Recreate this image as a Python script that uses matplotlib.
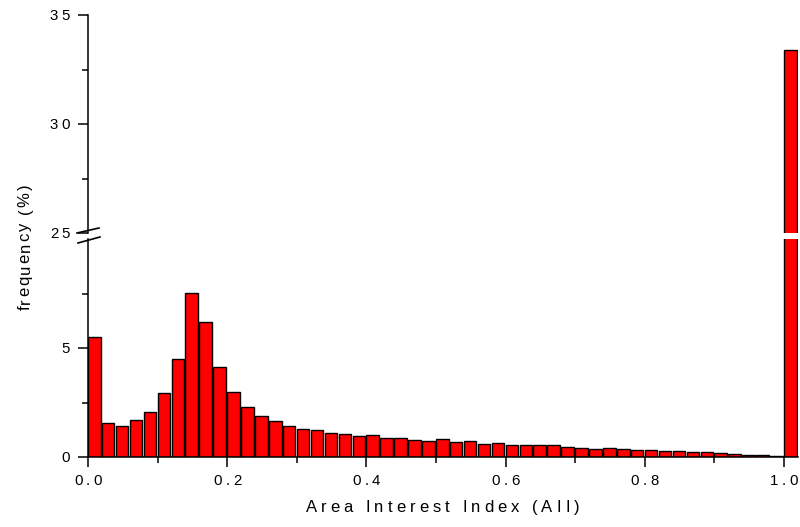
import matplotlib
matplotlib.use("Agg")
import numpy as np
import matplotlib.pyplot as plt
from matplotlib.lines import Line2D
from matplotlib.transforms import offset_copy
from matplotlib.font_manager import FontProperties, findfont, get_font

# Data: bin left edges (AII, 0.02 wide) and frequency (%)
BIN_LEFT = np.linspace(0.0, 1.0, 51)
FREQ = [5.49, 1.57, 1.44, 1.70, 2.08, 2.95, 4.48, 7.51, 6.21, 4.14,
        3.00, 2.31, 1.89, 1.67, 1.42, 1.30, 1.24, 1.09, 1.06, 0.98,
        0.99, 0.87, 0.86, 0.80, 0.75, 0.83, 0.70, 0.72, 0.61, 0.63,
        0.56, 0.57, 0.53, 0.54, 0.47, 0.43, 0.38, 0.41, 0.37, 0.34,
        0.34, 0.28, 0.26, 0.23, 0.23, 0.20, 0.15, 0.11, 0.08, 0.05,
        33.4]

XTICKS = [0.0, 0.2, 0.4, 0.6, 0.8, 1.0]
XTICK_LABELS = ["0.0", "0.2", "0.4", "0.6", "0.8", "1.0"]
XMINOR = [0.1, 0.3, 0.5, 0.7, 0.9]
LOW_TICKS = [0, 5]
LOW_MINOR = [2.5, 7.5]
HIGH_TICKS = [25, 30, 35]
HIGH_MINOR = [27.5, 32.5]

FONT = "Liberation Sans"
W, H = 800, 527

fig = plt.figure(figsize=(W / 100, H / 100), dpi=100)
fig.patch.set_facecolor("white")

# two stacked axes for the broken y axis (pixel layout of the reference)
ax_lo = fig.add_axes([88 / W, (H - 457) / H, 710 / W, 218 / H])
ax_hi = fig.add_axes([88 / W, (H - 233) / H, 710 / W, 218 / H])

for ax in (ax_lo, ax_hi):
    ax.bar(BIN_LEFT, FREQ, width=0.018, align="edge", color="#ff0000",
           edgecolor="black", linewidth=1.0)
    ax.set_xlim(0, 1.02)
    for s in ("top", "right"):
        ax.spines[s].set_visible(False)
    for s in ("left", "bottom"):
        ax.spines[s].set_linewidth(1.1)
    ax.tick_params(which="major", direction="out", length=7.5, width=1.1,
                   labelleft=False, labelbottom=False)
    ax.tick_params(which="minor", direction="out", length=4, width=1.1)

ax_lo.set_ylim(0, 10)
ax_lo.set_yticks(LOW_TICKS)
ax_lo.set_yticks(LOW_MINOR, minor=True)
ax_lo.set_xticks(XTICKS)
ax_lo.set_xticks(XMINOR, minor=True)

ax_hi.set_ylim(25, 35)
ax_hi.set_yticks(HIGH_TICKS)
ax_hi.set_yticks(HIGH_MINOR, minor=True)
ax_hi.spines["bottom"].set_visible(False)
ax_hi.set_xticks([])
ax_hi.tick_params(axis="x", which="both", bottom=False)


def spaced(x, y, s, trans, size, gap, ha="center", rot=0, dx=0, dy=0):
    """Draw s char by char with extra letter spacing (points)."""
    fp = FontProperties(family=FONT, size=size)
    font = get_font(findfont(fp))
    font.set_size(size, 72)
    adv = [font.load_char(ord(c)).linearHoriAdvance / 65536 for c in s]
    total = sum(adv) + gap * (len(s) - 1)
    pos = {"center": -total / 2, "left": 0, "right": -total}[ha]
    for c, a in zip(s, adv):
        if rot == 0:
            t = offset_copy(trans, fig=fig, x=dx + pos, y=dy, units="points")
        else:
            t = offset_copy(trans, fig=fig, x=dx, y=dy + pos, units="points")
        fig.text(x, y, c, transform=t, fontproperties=fp, ha="left",
                 va="baseline", rotation=rot, rotation_mode="anchor")
        pos += a + gap


TICK_SIZE = 10.8
TICK_GAP = 2.6

# x tick labels
for v, lab in zip(XTICKS, XTICK_LABELS):
    spaced(v, 0, lab, ax_lo.get_xaxis_transform(), TICK_SIZE, TICK_GAP,
           dy=-28 * 0.72)

# y tick labels
for ax, ticks in ((ax_lo, LOW_TICKS), (ax_hi, HIGH_TICKS)):
    for v in ticks:
        spaced(0, v, str(v), ax.get_yaxis_transform(), TICK_SIZE, TICK_GAP,
               ha="right", dx=-18 * 0.72, dy=-5.3 * 0.72)

# axis titles
spaced(442.5 / W, (H - 512) / H, "Area Interest Index (AII)", fig.transFigure,
       12, 2.9)
spaced(29.5 / W, (H - 247.5) / H, "frequency (%)", fig.transFigure, 12, 1.3,
       rot=90)

# break marks on the y axis
for (x1, y1, x2, y2) in ((77, 233, 99, 228), (78, 243, 100, 237)):
    fig.add_artist(Line2D([x1 / W, x2 / W], [(H - y1) / H, (H - y2) / H],
                          transform=fig.transFigure, color="black", lw=1.2))

fig.savefig("out.png", dpi=100, facecolor="white")
